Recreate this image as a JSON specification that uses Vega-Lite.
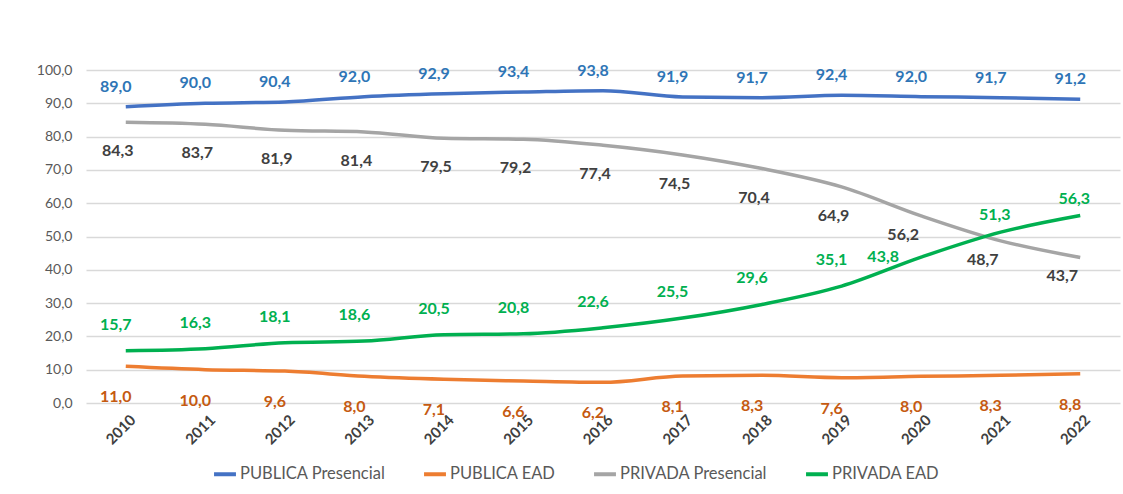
{
  "$schema": "https://vega.github.io/schema/vega-lite/v6.json",
  "autosize": {"type": "none"},
  "width": 1034,
  "height": 333,
  "padding": {"left": 86, "top": 70, "right": 3, "bottom": 91},
  "background": "white",
  "config": {
    "locale": {"number": {"decimal": ",", "thousands": ".", "grouping": [3], "currency": ["R$", ""]}},
    "font": "Lato",
    "view": {"stroke": null}
  },
  "data": {
    "values": [
      {"ano": "2010", "serie": "PUBLICA Presencial", "valor": 89.0},
      {"ano": "2011", "serie": "PUBLICA Presencial", "valor": 90.0},
      {"ano": "2012", "serie": "PUBLICA Presencial", "valor": 90.4},
      {"ano": "2013", "serie": "PUBLICA Presencial", "valor": 92.0},
      {"ano": "2014", "serie": "PUBLICA Presencial", "valor": 92.9},
      {"ano": "2015", "serie": "PUBLICA Presencial", "valor": 93.4},
      {"ano": "2016", "serie": "PUBLICA Presencial", "valor": 93.8},
      {"ano": "2017", "serie": "PUBLICA Presencial", "valor": 91.9},
      {"ano": "2018", "serie": "PUBLICA Presencial", "valor": 91.7},
      {"ano": "2019", "serie": "PUBLICA Presencial", "valor": 92.4},
      {"ano": "2020", "serie": "PUBLICA Presencial", "valor": 92.0},
      {"ano": "2021", "serie": "PUBLICA Presencial", "valor": 91.7},
      {"ano": "2022", "serie": "PUBLICA Presencial", "valor": 91.2},
      {"ano": "2010", "serie": "PUBLICA EAD", "valor": 11.0},
      {"ano": "2011", "serie": "PUBLICA EAD", "valor": 10.0},
      {"ano": "2012", "serie": "PUBLICA EAD", "valor": 9.6},
      {"ano": "2013", "serie": "PUBLICA EAD", "valor": 8.0},
      {"ano": "2014", "serie": "PUBLICA EAD", "valor": 7.1},
      {"ano": "2015", "serie": "PUBLICA EAD", "valor": 6.6},
      {"ano": "2016", "serie": "PUBLICA EAD", "valor": 6.2},
      {"ano": "2017", "serie": "PUBLICA EAD", "valor": 8.1},
      {"ano": "2018", "serie": "PUBLICA EAD", "valor": 8.3},
      {"ano": "2019", "serie": "PUBLICA EAD", "valor": 7.6},
      {"ano": "2020", "serie": "PUBLICA EAD", "valor": 8.0},
      {"ano": "2021", "serie": "PUBLICA EAD", "valor": 8.3},
      {"ano": "2022", "serie": "PUBLICA EAD", "valor": 8.8},
      {"ano": "2010", "serie": "PRIVADA Presencial", "valor": 84.3},
      {"ano": "2011", "serie": "PRIVADA Presencial", "valor": 83.7},
      {"ano": "2012", "serie": "PRIVADA Presencial", "valor": 81.9},
      {"ano": "2013", "serie": "PRIVADA Presencial", "valor": 81.4},
      {"ano": "2014", "serie": "PRIVADA Presencial", "valor": 79.5},
      {"ano": "2015", "serie": "PRIVADA Presencial", "valor": 79.2},
      {"ano": "2016", "serie": "PRIVADA Presencial", "valor": 77.4},
      {"ano": "2017", "serie": "PRIVADA Presencial", "valor": 74.5},
      {"ano": "2018", "serie": "PRIVADA Presencial", "valor": 70.4},
      {"ano": "2019", "serie": "PRIVADA Presencial", "valor": 64.9},
      {"ano": "2020", "serie": "PRIVADA Presencial", "valor": 56.2},
      {"ano": "2021", "serie": "PRIVADA Presencial", "valor": 48.7},
      {"ano": "2022", "serie": "PRIVADA Presencial", "valor": 43.7},
      {"ano": "2010", "serie": "PRIVADA EAD", "valor": 15.7},
      {"ano": "2011", "serie": "PRIVADA EAD", "valor": 16.3},
      {"ano": "2012", "serie": "PRIVADA EAD", "valor": 18.1},
      {"ano": "2013", "serie": "PRIVADA EAD", "valor": 18.6},
      {"ano": "2014", "serie": "PRIVADA EAD", "valor": 20.5},
      {"ano": "2015", "serie": "PRIVADA EAD", "valor": 20.8},
      {"ano": "2016", "serie": "PRIVADA EAD", "valor": 22.6},
      {"ano": "2017", "serie": "PRIVADA EAD", "valor": 25.5},
      {"ano": "2018", "serie": "PRIVADA EAD", "valor": 29.6},
      {"ano": "2019", "serie": "PRIVADA EAD", "valor": 35.1},
      {"ano": "2020", "serie": "PRIVADA EAD", "valor": 43.8},
      {"ano": "2021", "serie": "PRIVADA EAD", "valor": 51.3},
      {"ano": "2022", "serie": "PRIVADA EAD", "valor": 56.3}
    ]
  },
  "encoding": {
    "x": {
      "field": "ano", "type": "ordinal",
      "scale": {"type": "point", "padding": 0.5},
      "axis": {"title": null, "labelAngle": -45, "labelAlign": "right", "labelBaseline": "top", "labelFontSize": 15, "labelFontWeight": "bold", "labelColor": "#404040", "domain": false, "ticks": false, "labelPadding": 9, "labelOffset": 2, "labelOverlap": false}
    },
    "y": {
      "field": "valor", "type": "quantitative",
      "scale": {"domain": [0, 100], "nice": false},
      "axis": {"title": null, "values": [0,10,20,30,40,50,60,70,80,90,100], "format": ".1f", "labelFontSize": 14, "labelColor": "#595959", "domain": false, "ticks": false, "gridColor": "#D9D9D9", "gridWidth": 1.3, "labelPadding": 14, "labelOverlap": false}
    }
  },
  "layer": [
    {
      "mark": {"type": "line", "interpolate": "monotone", "strokeWidth": 3.5},
      "encoding": {
        "color": {
          "field": "serie", "type": "nominal",
          "scale": {"domain": ["PUBLICA Presencial", "PUBLICA EAD", "PRIVADA Presencial", "PRIVADA EAD"], "range": ["#4472C4", "#ED7D31", "#A5A5A5", "#00B050"]},
          "legend": {"title": null, "orient": "none", "legendX": 126, "legendY": 391, "direction": "horizontal", "symbolType": "stroke", "symbolStrokeWidth": 4, "symbolSize": 480, "labelFontSize": 16.5, "labelColor": "#595959", "columnPadding": 30, "labelOffset": 2}
        }
      }
    },
    {
      "transform": [{"filter": "datum.serie == 'PUBLICA Presencial'"}],
      "mark": {"type": "text", "dx": -10, "dy": -20, "fontSize": 16, "fontWeight": "bold", "color": "#2E75B6"},
      "encoding": {"text": {"field": "valor", "type": "quantitative", "format": ".1f"}}
    },
    {
      "transform": [{"filter": "datum.serie == 'PUBLICA EAD'"}],
      "mark": {"type": "text", "dx": -10, "dy": 31, "fontSize": 16, "fontWeight": "bold", "color": "#C55A11"},
      "encoding": {"text": {"field": "valor", "type": "quantitative", "format": ".1f"}}
    },
    {
      "transform": [{"filter": "datum.serie == 'PRIVADA Presencial' && datum.ano < '2020'"}],
      "mark": {"type": "text", "dx": -8, "dy": 29, "fontSize": 16, "fontWeight": "bold", "color": "#404040"},
      "encoding": {"text": {"field": "valor", "type": "quantitative", "format": ".1f"}}
    },
    {
      "transform": [{"filter": "datum.serie == 'PRIVADA Presencial' && datum.ano >= '2020'"}],
      "mark": {"type": "text", "dx": -18, "dy": 19, "fontSize": 16, "fontWeight": "bold", "color": "#404040"},
      "encoding": {"text": {"field": "valor", "type": "quantitative", "format": ".1f"}}
    },
    {
      "transform": [{"filter": "datum.serie == 'PRIVADA EAD' && datum.ano < '2020'"}],
      "mark": {"type": "text", "dx": -10, "dy": -26, "fontSize": 16, "fontWeight": "bold", "color": "#00B050"},
      "encoding": {"text": {"field": "valor", "type": "quantitative", "format": ".1f"}}
    },
    {
      "transform": [{"filter": "datum.serie == 'PRIVADA EAD' && datum.ano == '2020'"}],
      "mark": {"type": "text", "dx": -38, "dy": 0, "fontSize": 16, "fontWeight": "bold", "color": "#00B050"},
      "encoding": {"text": {"field": "valor", "type": "quantitative", "format": ".1f"}}
    },
    {
      "transform": [{"filter": "datum.serie == 'PRIVADA EAD' && datum.ano > '2020'"}],
      "mark": {"type": "text", "dx": -6, "dy": -17, "fontSize": 16, "fontWeight": "bold", "color": "#00B050"},
      "encoding": {"text": {"field": "valor", "type": "quantitative", "format": ".1f"}}
    }
  ]
}
